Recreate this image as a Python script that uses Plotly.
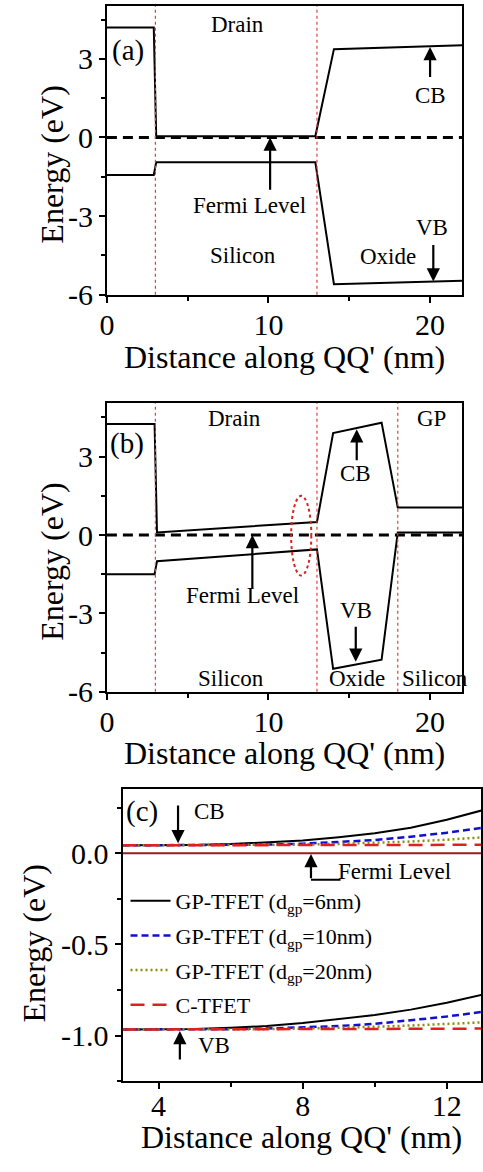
import plotly.graph_objects as go

# ---------------- data ----------------
# Panel (a): C-TFET band diagram along QQ'
xa_band = [0, 2.9, 3.05, 12.9, 14.05, 22]
ya_cb = [4.2, 4.2, 0.05, 0.05, 3.37, 3.52]
ya_vb = [-1.43, -1.43, -0.95, -0.95, -5.6, -5.47]
bound_a = [3, 13]

# Panel (b): GP-TFET band diagram along QQ'
xb_band = [0, 2.95, 3.1, 13.0, 14.0, 17.0, 18.0, 22]
yb_cb = [4.25, 4.25, 0.1, 0.5, 3.9, 4.3, 1.05, 1.05]
yb_vb = [-1.5, -1.5, -1.0, -0.55, -5.12, -4.77, 0.1, 0.1]
bound_b = [3, 13, 18]

fermi_x = [0, 22]
fermi_y = [0, 0]

# Panel (c): zoom of drain region
xc = [3, 4, 5, 6, 7, 8, 9, 10, 11, 12, 13]
cb_gp6 = [0.043, 0.043, 0.045, 0.050, 0.058, 0.070, 0.088, 0.110, 0.140, 0.183, 0.236]
vb_gp6 = [-0.967, -0.967, -0.964, -0.958, -0.948, -0.932, -0.912, -0.888, -0.858, -0.820, -0.775]
cb_gp10 = [0.043, 0.043, 0.044, 0.045, 0.047, 0.052, 0.060, 0.072, 0.090, 0.112, 0.140]
vb_gp10 = [-0.967, -0.967, -0.966, -0.965, -0.962, -0.956, -0.948, -0.936, -0.918, -0.896, -0.870]
cb_gp20 = [0.043, 0.043, 0.043, 0.044, 0.045, 0.047, 0.051, 0.057, 0.064, 0.074, 0.087]
vb_gp20 = [-0.967, -0.967, -0.967, -0.966, -0.965, -0.962, -0.958, -0.952, -0.945, -0.938, -0.928]
cb_ctfet = [0.043, 0.043, 0.043, 0.043, 0.043, 0.043, 0.044, 0.044, 0.045, 0.045, 0.046]
vb_ctfet = [-0.967, -0.967, -0.967, -0.967, -0.967, -0.966, -0.966, -0.965, -0.964, -0.963, -0.962]
fermi_c_x = [3, 13]
fermi_c_y = [0, 0]

names_c = ["GP-TFET (d<sub>gp</sub>=6nm)", "GP-TFET (d<sub>gp</sub>=10nm)",
           "GP-TFET (d<sub>gp</sub>=20nm)", "C-TFET"]

ytick_ab_vals = [-6, -3, 0, 3]
ytick_ab_text = ["-6", "-3", "0", "3"]
ytick_c_vals = [-1.0, -0.5, 0.0]
ytick_c_text = ["-1.0", "-0.5", "0.0"]

# ---------------- figure ----------------
FONT = "'Liberation Serif', 'DejaVu Serif', 'Times New Roman', serif"
W, H = 483, 1172
fig = go.Figure()

blk = dict(color="black", width=2)
fermi_line = dict(color="black", width=3, dash="10px,6px")

# panel a
fig.add_trace(go.Scatter(x=xa_band, y=ya_cb, mode="lines", line=blk, xaxis="x", yaxis="y", showlegend=False))
fig.add_trace(go.Scatter(x=xa_band, y=ya_vb, mode="lines", line=blk, xaxis="x", yaxis="y", showlegend=False))
fig.add_trace(go.Scatter(x=fermi_x, y=fermi_y, mode="lines", line=fermi_line, xaxis="x", yaxis="y", showlegend=False))
# panel b
fig.add_trace(go.Scatter(x=xb_band, y=yb_cb, mode="lines", line=blk, xaxis="x2", yaxis="y2", showlegend=False))
fig.add_trace(go.Scatter(x=xb_band, y=yb_vb, mode="lines", line=blk, xaxis="x2", yaxis="y2", showlegend=False))
fig.add_trace(go.Scatter(x=fermi_x, y=fermi_y, mode="lines", line=fermi_line, xaxis="x2", yaxis="y2", showlegend=False))

# panel c
fig.add_trace(go.Scatter(x=fermi_c_x, y=fermi_c_y, mode="lines", line=dict(color="#9b1c1c", width=2),
                         xaxis="x3", yaxis="y3", showlegend=False))
styles = [dict(color="black", width=2),
          dict(color="#1010d0", width=2.5, dash="7px,4px"),
          dict(color="#8c8c10", width=2.5, dash="2px,3px"),
          dict(color="#e02020", width=2.5, dash="14px,8px")]
cbs = [cb_gp6, cb_gp10, cb_gp20, cb_ctfet]
vbs = [vb_gp6, vb_gp10, vb_gp20, vb_ctfet]
for i in range(4):
    fig.add_trace(go.Scatter(x=xc, y=cbs[i], mode="lines", line=styles[i], name=names_c[i],
                             legendgroup="g%d" % i, xaxis="x3", yaxis="y3"))
    fig.add_trace(go.Scatter(x=xc, y=vbs[i], mode="lines", line=styles[i], name=names_c[i],
                             legendgroup="g%d" % i, showlegend=False, xaxis="x3", yaxis="y3"))

def py(px):
    return 1 - px / H

def pxx(px):
    return px / W

tickfont = dict(family=FONT, size=30, color="black")
common_ax = dict(showline=True, linecolor="black", linewidth=2, mirror=True, showgrid=False,
                 zeroline=False, ticks="outside", ticklen=6, tickwidth=2, tickcolor="black",
                 tickfont=tickfont)

fig.update_layout(
    width=W, height=H, margin=dict(l=0, r=0, t=0, b=0),
    paper_bgcolor="white", plot_bgcolor="white",
    font=dict(family=FONT, color="black"),
    xaxis=dict(domain=[pxx(101), pxx(464)], range=[0, 22], anchor="y", dtick=10, tick0=0,
               ticklabelstandoff=-4,
               minor=dict(dtick=5, ticks="outside", ticklen=4, tickcolor="black"), **common_ax),
    yaxis=dict(domain=[py(299), py(6)], range=[-6, 5.02], anchor="x",
               tickvals=ytick_ab_vals, ticktext=ytick_ab_text,
               minor=dict(dtick=1.5, tick0=0, ticks="outside", ticklen=4, tickcolor="black"), **common_ax),
    xaxis2=dict(domain=[pxx(101), pxx(464)], range=[0, 22], anchor="y2", dtick=10, tick0=0,
                ticklabelstandoff=-4,
                minor=dict(dtick=5, ticks="outside", ticklen=4, tickcolor="black"), **common_ax),
    yaxis2=dict(domain=[py(702), py(409)], range=[-6, 5.05], anchor="x2",
                tickvals=ytick_ab_vals, ticktext=ytick_ab_text,
                minor=dict(dtick=1.5, tick0=0, ticks="outside", ticklen=4, tickcolor="black"), **common_ax),
    xaxis3=dict(domain=[pxx(117), 1.0], range=[3, 12.95], anchor="y3", dtick=4, tick0=0,
                ticklabelstandoff=-9,
                minor=dict(dtick=2, ticks="outside", ticklen=4, tickcolor="black"), **common_ax),
    yaxis3=dict(domain=[py(1097), py(801)], range=[-1.25, 0.35], anchor="x3",
                tickvals=ytick_c_vals, ticktext=ytick_c_text,
                minor=dict(dtick=0.25, tick0=0, ticks="outside", ticklen=4, tickcolor="black"), **common_ax),
    legend=dict(x=pxx(120), y=py(893), xanchor="left", yanchor="top", bgcolor="rgba(0,0,0,0)",
                font=dict(family=FONT, size=22, color="black"), tracegroupgap=3, itemwidth=40),
)

shapes = []
for b in bound_a:
    shapes.append(dict(type="line", xref="x", yref="y domain", x0=b, x1=b, y0=0, y1=1,
                       line=dict(color="#e04040", width=1.2, dash="dot")))
for b in bound_b:
    shapes.append(dict(type="line", xref="x2", yref="y2 domain", x0=b, x1=b, y0=0, y1=1,
                       line=dict(color="#e04040", width=1.2, dash="dot")))
shapes.append(dict(type="circle", xref="x2", yref="y2", x0=11.4, x1=12.65, y0=-1.55, y1=1.5,
                   line=dict(color="#e02020", width=2, dash="dot")))
shapes.append(dict(type="line", xref="x3", yref="y3", x0=8.23, x1=9.05, y0=-0.146, y1=-0.146,
                   line=dict(color="black", width=2)))
fig.update_layout(shapes=shapes)

ann = []
def txt(x, y, t, xr, yr, size=23):
    ann.append(dict(x=x, y=y, xref=xr, yref=yr, text=t, showarrow=False,
                    font=dict(family=FONT, size=size, color="black")))

def arr(x0, y0, x1, y1, xr, yr):
    ann.append(dict(x=x1, y=y1, ax=x0, ay=y0, xref=xr, yref=yr, axref=xr, ayref=yr, text="",
                    showarrow=True, arrowhead=2, arrowsize=1.2, arrowwidth=2.2, arrowcolor="black",
                    standoff=0, startstandoff=0))

# panel a
txt(8.1, 4.3, "Drain", "x", "y")
txt(1.3, 3.3, "(a)", "x", "y", 29)
txt(20.0, 1.6, "CB", "x", "y")
txt(8.8, -2.6, "Fermi Level", "x", "y")
txt(8.4, -4.5, "Silicon", "x", "y")
txt(17.4, -4.55, "Oxide", "x", "y")
txt(20.1, -3.45, "VB", "x", "y")
arr(20.0, 2.25, 20.0, 3.45, "x", "y")
arr(10.1, -2.05, 10.1, 0.0, "x", "y")
arr(20.2, -4.05, 20.2, -5.5, "x", "y")
# panel b
txt(7.9, 4.45, "Drain", "x2", "y2")
txt(20.1, 4.45, "GP", "x2", "y2")
txt(1.25, 3.5, "(b)", "x2", "y2", 29)
txt(15.4, 2.35, "CB", "x2", "y2")
txt(8.4, -2.3, "Fermi Level", "x2", "y2")
txt(15.4, -2.9, "VB", "x2", "y2")
txt(7.7, -5.5, "Silicon", "x2", "y2")
txt(15.5, -5.5, "Oxide", "x2", "y2")
txt(20.3, -5.5, "Silicon", "x2", "y2")
arr(15.46, 2.8, 15.46, 4.05, "x2", "y2")
arr(9.0, -2.1, 9.0, 0.0, "x2", "y2")
arr(15.4, -3.45, 15.4, -4.85, "x2", "y2")
# panel c
txt(3.55, 0.23, "(c)", "x3", "y3", 29)
txt(5.4, 0.23, "CB", "x3", "y3")
txt(10.55, -0.1, "Fermi Level", "x3", "y3")
txt(5.55, -1.055, "VB", "x3", "y3")
arr(4.54, 0.27, 4.54, 0.055, "x3", "y3")
arr(8.23, -0.146, 8.23, -0.005, "x3", "y3")
arr(4.59, -1.14, 4.59, -0.975, "x3", "y3")

# axis titles as annotations
title_font = dict(family=FONT, size=32, color="black")
def title(xp, yp, t, angle=0):
    ann.append(dict(x=pxx(xp), y=py(yp), xref="paper", yref="paper", text=t, showarrow=False,
                    textangle=angle, font=title_font, xanchor="center", yanchor="middle"))

title(282, 362, "Distance along QQ' (nm)")
title(45, 167, "Energy (eV)", -90)
title(282, 764, "Distance along QQ' (nm)")
title(45, 570, "Energy (eV)", -90)
title(300, 1154, "Distance along QQ' (nm)")
title(27, 957, "Energy (eV)", -90)

fig.update_layout(annotations=ann)

fig.write_html("out.html", config={"displayModeBar": False},
               post_script="document.body.style.margin='0';document.body.style.overflow='hidden';")
